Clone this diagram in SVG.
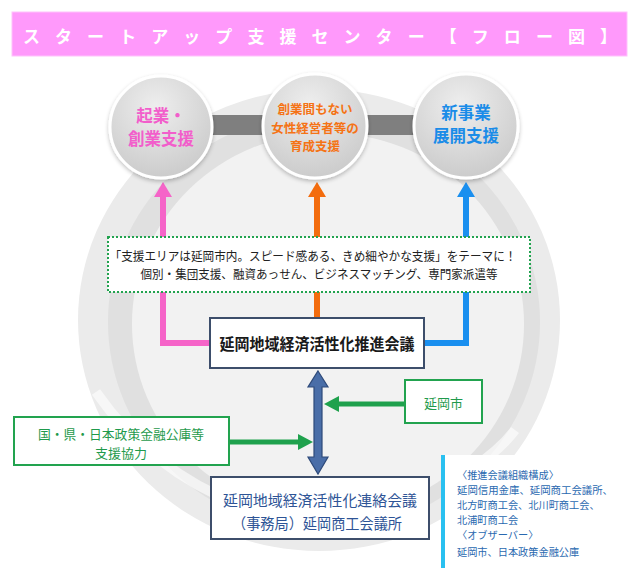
<svg xmlns="http://www.w3.org/2000/svg" width="638" height="568" viewBox="0 0 638 568">
<defs>
<radialGradient id="cg" cx="0.45" cy="0.3" r="0.75">
<stop offset="0" stop-color="#eeeeee"/>
<stop offset="1" stop-color="#c9c9c9"/>
</radialGradient>
<filter id="sh" x="-20%" y="-20%" width="140%" height="140%">
<feGaussianBlur in="SourceAlpha" stdDeviation="2"/>
<feOffset dx="0" dy="2" result="b"/>
<feComponentTransfer><feFuncA type="linear" slope="0.25"/></feComponentTransfer>
<feMerge><feMergeNode/><feMergeNode in="SourceGraphic"/></feMerge>
</filter>
<style>
text{font-family:"Noto Sans CJK JP","Noto Sans",sans-serif;text-anchor:middle;dominant-baseline:central}
.circ{fill:url(#cg);stroke:#ffffff;stroke-width:3;filter:url(#sh)}
.bx{fill:#ffffff;stroke:#3d4e6b;stroke-width:2}
.gbx{fill:#ffffff;stroke:#22a34f;stroke-width:2}
.grn{fill:#1fa14d}
.gt{fill:#1f9a4c;font-size:13px}
.bt{fill:#2a69b0;font-size:10.2px;text-anchor:start}
</style>
</defs>
<rect width="638" height="568" fill="#ffffff"/>
<!-- background ring -->
<g id="ring">
<ellipse cx="319" cy="320" rx="241" ry="231" fill="#ebebeb"/>
<ellipse cx="324" cy="322" rx="216" ry="209" fill="#e0e0e0"/>
<ellipse cx="328" cy="324" rx="196" ry="191" fill="#f2f2f2"/>
<path d="M96,392 Q150,470 240,505" fill="none" stroke="#ffffff" stroke-opacity="0.6" stroke-width="10"/>
<path d="M515,430 Q500,450 470,470" fill="none" stroke="#ffffff" stroke-opacity="0.6" stroke-width="10"/>
</g>
<!-- title -->
<g id="title">
<rect x="12" y="12" width="615" height="44" fill="#ff99fb" stroke="#ffc2fc" stroke-width="1"/>
<text x="320" y="35" font-size="17" font-weight="bold" fill="#ffffff" textLength="594" lengthAdjust="spacing">スタートアップ支援センター【フロー図】</text>
</g>
<!-- bars between circles -->
<g id="bars">
<rect x="205" y="115" width="70" height="20" fill="#7f7f7f"/>
<rect x="360" y="115" width="60" height="20" fill="#7f7f7f"/>
</g>
<g id="connectors">
<polyline points="210,343 163,343 163,195" fill="none" stroke="#f564c8" stroke-width="6"/>
<polygon points="163,182 172,197 154,197" fill="#f564c8"/>
<line x1="317" y1="318" x2="317" y2="195" stroke="#f36c0e" stroke-width="6"/>
<polygon points="317,182 326,197 308,197" fill="#f36c0e"/>
<polyline points="424,343 466,343 466,195" fill="none" stroke="#1a8fef" stroke-width="6"/>
<polygon points="466,182 475,197 457,197" fill="#1a8fef"/>
<path d="M318,371 L328,387 L322,387 L322,457 L328,457 L318,474 L308,457 L314,457 L314,387 L308,387 Z" fill="#4a6ea8" stroke="#2e4a7a" stroke-width="1.2"/>
<path class="grn" d="M324,404 L339,396 L339,401.5 L405,401.5 L405,406.5 L339,406.5 L339,412 Z"/>
<path class="grn" d="M313,442 L298,434 L298,439.5 L229,439.5 L229,444.5 L298,444.5 L298,450 Z"/>
</g>
<g id="c-kigyo">
<circle class="circ" cx="161" cy="127" r="51"/>
<text x="161" y="115" font-size="16.5" font-weight="bold" fill="#f25ecb">起業・</text>
<text x="161" y="138" font-size="16.5" font-weight="bold" fill="#f25ecb">創業支援</text>
</g>
<g id="c-josei">
<circle class="circ" cx="315" cy="126" r="52"/>
<text x="315" y="108" font-size="12.5" font-weight="bold" fill="#f57315">創業間もない</text>
<text x="315" y="127" font-size="12.5" font-weight="bold" fill="#f57315">女性経営者等の</text>
<text x="315" y="145" font-size="12.5" font-weight="bold" fill="#f57315">育成支援</text>
</g>
<g id="c-shinjigyo">
<circle class="circ" cx="466" cy="126" r="52"/>
<text x="466" y="112" font-size="16.5" font-weight="bold" fill="#1a8ce8">新事業</text>
<text x="466" y="135" font-size="16.5" font-weight="bold" fill="#1a8ce8">展開支援</text>
</g>
<g id="theme">
<rect x="108" y="237" width="422" height="55" fill="#ffffff" stroke="#22a34f" stroke-width="2" stroke-dasharray="2,2"/>
<text x="313" y="255" font-size="12.5" fill="#222222" textLength="407" lengthAdjust="spacingAndGlyphs">「支援エリアは延岡市内。スピード感ある、きめ細やかな支援」をテーマに！</text>
<text x="319" y="273" font-size="12" fill="#222222" textLength="357" lengthAdjust="spacingAndGlyphs">個別・集団支援、融資あっせん、ビジネスマッチング、専門家派遣等</text>
</g>
<g id="suishin">
<rect class="bx" x="210" y="318" width="214" height="50"/>
<text x="317" y="343" font-size="16" font-weight="bold" fill="#1a1a1a" textLength="195" lengthAdjust="spacingAndGlyphs">延岡地域経済活性化推進会議</text>
</g>
<g id="nobeokashi">
<rect class="gbx" x="405" y="380" width="77" height="43"/>
<text class="gt" x="443.5" y="402" font-size="15">延岡市</text>
</g>
<g id="kuni">
<rect class="gbx" x="14" y="417" width="215" height="48"/>
<text class="gt" x="121" y="433" textLength="166" lengthAdjust="spacingAndGlyphs">国・県・日本政策金融公庫等</text>
<text class="gt" x="121" y="452">支援協力</text>
</g>
<g id="renraku">
<rect class="bx" x="211" y="477" width="218" height="62"/>
<text x="320" y="499" font-size="15" fill="#2e5496" textLength="194" lengthAdjust="spacingAndGlyphs">延岡地域経済活性化連絡会議</text>
<text x="317" y="522" font-size="15" fill="#2e5496" textLength="170" lengthAdjust="spacingAndGlyphs">（事務局）延岡商工会議所</text>
</g>
<g id="members">
<rect x="445" y="455" width="193" height="113" fill="#ffffff"/>
<rect x="441" y="455" width="4" height="113" fill="#29c0f0"/>
<text class="bt" x="457" y="474">〈推進会議組織構成〉</text>
<text class="bt" x="457" y="489" textLength="156" lengthAdjust="spacingAndGlyphs">延岡信用金庫、延岡商工会議所、</text>
<text class="bt" x="457" y="504">北方町商工会、北川町商工会、</text>
<text class="bt" x="457" y="519">北浦町商工会</text>
<text class="bt" x="457" y="534">〈オブザーバー〉</text>
<text class="bt" x="457" y="551">延岡市、日本政策金融公庫</text>
</g>
</svg>
